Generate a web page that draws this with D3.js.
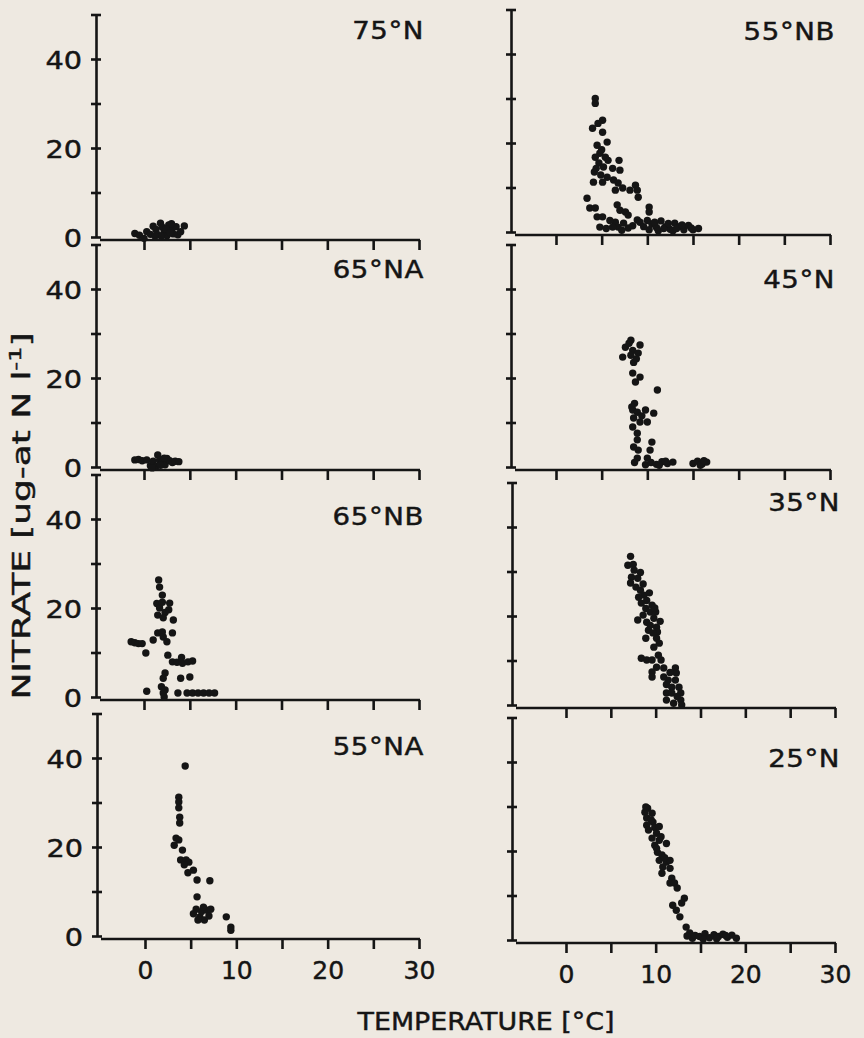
<!DOCTYPE html>
<html>
<head>
<meta charset="utf-8">
<script src="https://cdnjs.cloudflare.com/ajax/libs/d3/7.8.5/d3.min.js"></script>
<style>
    body { margin: 0; background: #eee9e1; }
    svg text { font-family: "DejaVu Sans", sans-serif; fill: #151515; stroke: #151515; stroke-width: 0.45px; }
    .axis path, .axis line { stroke: #151515; stroke-width: 2.6; }
    .axis text { font-size: 25px; }
</style>
</head>
<body>
<div id="chart"></div>
<script>

//Panel names - left column top to bottom, then right column
var panelNames = ["75°N", "65°NA", "65°NB", "55°NA", "55°NB", "45°N", "35°N", "25°N"];

//Temperature / nitrate pairs
var n75 = [[-1.0,0.8],[-0.5,0.4],[0.0,-0.3],[0.3,1.2],[0.7,0.6],[1.0,2.4],[1.3,1.7],[1.5,0.5],[1.8,3.1],[2.0,2.2],[2.2,1.0],[2.5,0.3],[2.7,2.7],[3.0,1.5],[3.2,0.7],[3.5,2.3],[3.7,0.5],[4.0,1.2],[4.4,2.5],[2.4,1.8],[1.9,0.2],[3.0,3.0],[1.2,0.2],[2.8,0.9]];
var n65a = [[-1.0,1.6],[-0.6,1.7],[-0.2,1.4],[0.3,1.6],[0.7,0.3],[1.0,1.3],[1.3,0.1],[1.5,2.7],[1.7,1.5],[2.0,1.1],[2.3,0.5],[2.5,1.9],[2.8,1.4],[3.1,1.0],[3.4,1.3],[3.8,1.2],[0.9,-0.2],[2.2,2.0],[1.8,0.4]];
var n65b = [[1.6,26.3],[1.7,24.7],[2.0,22.9],[1.4,21.0],[1.7,20.0],[2.0,21.3],[2.3,19.0],[1.5,18.4],[2.1,17.8],[2.8,21.1],[2.7,19.6],[3.2,17.3],[1.0,12.8],[1.5,14.4],[2.0,14.6],[2.1,13.5],[3.1,14.4],[2.5,12.4],[-1.4,12.4],[-1.0,12.2],[-0.6,12.0],[-0.2,12.0],[0.2,9.9],[2.6,9.4],[3.1,7.9],[3.6,7.8],[4.2,7.6],[4.8,7.9],[5.3,8.1],[4.1,8.9],[2.3,5.4],[5.0,4.5],[4.0,4.2],[2.1,4.2],[1.9,2.3],[2.3,1.6],[2.1,0.9],[0.3,1.3],[3.7,0.9],[4.7,0.9],[5.3,0.9],[5.9,0.9],[6.5,0.9],[7.1,0.9],[7.7,0.9],[2.2,0.0]];
var n55a = [[4.4,38.2],[3.7,31.2],[3.7,30.1],[3.7,28.8],[3.8,26.7],[3.8,25.4],[3.4,22.0],[3.7,21.6],[3.2,20.4],[4.1,19.3],[3.9,17.1],[4.5,17.1],[4.8,16.6],[4.3,16.0],[4.7,14.2],[5.3,14.8],[5.7,12.6],[7.1,12.4],[5.7,8.8],[5.3,5.0],[5.6,6.0],[6.0,4.3],[6.2,5.5],[6.5,3.6],[6.8,5.8],[7.0,4.5],[7.2,6.0],[5.8,3.6],[6.4,6.5],[8.9,4.3],[9.4,2.0],[9.4,1.3]];
var n55b = [[4.3,30.0],[4.3,28.9],[5.1,25.1],[4.6,24.4],[4.0,23.3],[5.1,22.4],[5.6,20.2],[4.8,17.7],[4.3,16.8],[5.4,16.8],[5.7,16.1],[6.9,16.1],[4.7,15.5],[5.2,14.6],[6.2,14.3],[7.0,13.9],[4.9,12.8],[5.6,12.3],[4.1,11.2],[5.1,11.2],[6.3,11.7],[6.8,11.0],[7.3,9.9],[6.5,9.4],[8.7,10.5],[8.9,9.4],[9.0,7.8],[8.1,9.4],[3.4,7.6],[3.7,5.4],[4.3,5.4],[4.5,3.4],[5.1,3.4],[4.8,1.1],[6.7,6.1],[7.0,4.9],[7.6,4.5],[7.9,3.8],[6.5,2.2],[6.8,1.1],[7.4,2.0],[6.2,1.1],[7.9,0.9],[8.9,2.7],[9.2,2.2],[10.2,5.6],[10.2,4.5],[10.5,1.8],[11.0,1.0],[11.5,2.5],[12.0,1.2],[12.5,0.6],[13.0,2.0],[13.5,1.2],[14.0,0.5],[14.5,1.5],[15.0,0.5],[15.6,0.8],[11.2,0.3],[12.8,0.3],[10.2,0.5],
            [10.8,2.2],[11.8,0.8],[12.3,1.9],[13.2,0.8],[13.8,1.6],[14.8,0.9],[9.6,1.2],[10.0,2.6],[7.2,0.4],[5.5,0.8],[5.9,2.6],[8.4,1.4],[4.2,13.5],[4.5,19.5],[5.0,18.5],[4.4,14.3]];
var n45 = [[8.2,28.5],[9.2,27.4],[7.6,26.9],[8.4,26.2],[7.3,24.7],[8.2,25.1],[9.0,25.6],[8.5,23.5],[8.4,21.1],[9.2,20.2],[8.7,19.1],[11.1,17.3],[8.6,14.3],[8.4,12.8],[8.9,12.3],[9.8,12.8],[10.7,12.1],[8.5,11.0],[9.2,10.1],[10.0,10.1],[8.4,9.0],[8.9,7.6],[8.9,6.1],[8.5,4.5],[9.0,3.8],[10.5,5.6],[10.3,3.8],[8.9,2.0],[10.0,2.0],[9.8,0.5],[10.4,1.0],[11.0,0.6],[11.6,1.2],[12.2,0.8],[12.8,1.1],[15.0,0.8],[15.5,1.3],[16.0,0.7],[16.5,1.1],
           [8.0,27.8],[8.8,24.3],[8.3,13.5],[9.4,11.5],[11.3,0.4],[12.0,1.3],[15.8,0.4],[16.2,1.4],[8.6,1.0]];
var n35 = [[7.2,33.4],[6.9,31.4],[7.6,30.3],[8.3,29.8],[7.3,28.7],[8.0,28.5],[7.2,27.4],[7.8,26.5],[8.3,25.8],[8.7,24.7],[8.1,24.2],[9.0,23.5],[8.4,22.9],[9.6,22.4],[8.9,21.7],[9.4,20.9],[10.0,20.9],[9.8,19.5],[8.0,19.1],[9.0,18.6],[9.4,17.9],[10.1,17.5],[9.2,16.8],[10.2,16.4],[8.9,15.0],[10.1,15.0],[9.8,13.0],[8.4,10.5],[9.0,10.1],[9.6,10.1],[10.3,11.2],[10.6,10.1],[10.1,8.5],[9.6,7.4],[9.6,6.3],[10.9,8.3],[10.9,6.3],[11.4,5.6],[12.2,8.3],[12.3,7.2],[12.2,5.6],[11.8,4.0],[12.6,4.0],[11.2,2.7],[11.8,2.7],[12.8,2.7],[12.8,1.1],[11.2,1.1],[12.9,0.0],
           [7.5,31.6],[8.6,27.2],[9.3,25.2],[9.9,21.8],[8.6,20.2],[10.5,18.8],[9.7,16.2],[11.2,4.6],[12.4,1.9],[12.0,0.4],[11.6,7.3],[10.4,13.9]];
var n25 = [[9.1,29.6],[8.8,28.7],[9.6,28.5],[9.0,27.4],[9.7,26.5],[9.0,25.8],[9.9,25.3],[9.2,24.7],[10.1,24.0],[9.6,22.9],[10.4,22.4],[11.2,21.7],[9.9,21.3],[10.2,19.7],[10.7,19.1],[10.4,17.9],[11.2,17.5],[11.6,17.9],[10.8,16.4],[11.6,16.1],[10.7,15.0],[11.8,13.9],[11.6,12.8],[12.1,12.8],[13.2,9.4],[12.9,8.3],[11.9,7.8],[12.3,6.7],[12.7,5.2],[13.4,2.9],[13.8,1.6],[14.1,0.4],[14.9,0.8],[15.5,1.4],[16.0,0.5],[16.5,1.2],[17.0,0.8],[17.5,1.3],[18.0,0.6],[18.5,1.1],[19.0,0.4],[15.3,0.2],
           [8.9,29.9],[9.5,27.0],[10.4,25.5],[10.6,23.2],[10.1,20.6],[11.0,18.5],[12.4,11.7],[13.5,0.9],[14.4,1.0],[16.8,0.3],[17.8,1.0]];

var panelData = [n75, n65a, n65b, n55a, n55b, n45, n35, n25];

//Tick values and labels
var yTicks = [0, 10, 20, 30, 40, 50];
var yTickLabels = ["0", "", "20", "", "40", ""];
var xTicks = [0, 5, 10, 15, 20, 25, 30];
var xTickLabels = ["0", "", "10", "", "20", "", "30"];


//SVG Size
var width = 864,
    height = 1038;

//Panel placement (scanned figure is slightly skewed, so every panel gets its own zero)
var layout = [
    {col: 0, row: 0, axisX: 96,  x0: 144, x30: 419, y0: 237, labY: 39},
    {col: 0, row: 1, axisX: 96,  x0: 144, x30: 419, y0: 467, labY: 278},
    {col: 0, row: 2, axisX: 96,  x0: 144, x30: 419, y0: 697, labY: 525},
    {col: 0, row: 3, axisX: 97,  x0: 145, x30: 419, y0: 936, labY: 755},
    {col: 1, row: 0, axisX: 511, x0: 556, x30: 830, y0: 232, labY: 40},
    {col: 1, row: 1, axisX: 511, x0: 556, x30: 830, y0: 467, labY: 288},
    {col: 1, row: 2, axisX: 512, x0: 566, x30: 835, y0: 705, labY: 511},
    {col: 1, row: 3, axisX: 512, x0: 566, x30: 835, y0: 940, labY: 767}
];
var yPx = 4.45;   // pixels per nitrate unit
var stretch = 1.15;  // the original lettering is a wide face


var svg = d3.select("#chart")
    .append("svg")
    .attr("width", width)
    .attr("height", height);


//Drawing the eight panels
layout.forEach(function(L, p) {

    var xScale = d3.scaleLinear()
        .domain([0, 30])
        .range([L.x0, L.x30]);

    var yScale = d3.scaleLinear()
        .domain([0, 50])
        .range([L.y0, L.y0 - 50 * yPx]);

    var g = svg.append("g").attr("class", "panel");

    // y axis, ticks cross the line
    var yAxis = d3.axisLeft(yScale)
        .tickValues(yTicks)
        .tickSize(5)
        .tickSizeOuter(0)
        .tickPadding(9)
        .tickFormat(function(d, i) { return L.col == 0 ? yTickLabels[i] : ""; });

    var ya = g.append("g")
        .attr("class", "axis")
        .attr("transform", "translate(" + L.axisX + ",0)")
        .call(yAxis);
    ya.selectAll(".tick line").attr("x1", 5);
    ya.selectAll(".tick text")
        .attr("dy", "0.36em")
        .attr("transform", "translate(-14,0) scale(" + stretch + ",1)")
        .attr("x", 0);

    // x axis, ticks hang below
    var xAxis = d3.axisBottom(xScale)
        .tickValues(xTicks)
        .tickSize(10)
        .tickSizeOuter(0)
        .tickPadding(12)
        .tickFormat(function(d, i) { return L.row == 3 ? xTickLabels[i] : ""; });

    var xa = g.append("g")
        .attr("class", "axis")
        .attr("transform", "translate(0," + (L.y0 + 3) + ")")
        .call(xAxis);
    xa.select(".domain").remove();
    xa.append("line")
        .attr("x1", L.axisX + 4)
        .attr("x2", xScale(30) + 1)
        .attr("y1", 0)
        .attr("y2", 0);

    // the dots
    g.selectAll("circle")
        .data(panelData[p])
        .enter()
        .append("circle")
        .attr("cx", function(d) { return xScale(d[0]); })
        .attr("cy", function(d) { return yScale(d[1]); })
        .attr("r", 3.7)
        .attr("fill", "#151515");

    // panel name
    g.append("text")
        .text(panelNames[p])
        .attr("transform", "translate(" + (xScale(30) + 5) + "," + L.labY + ") scale(" + stretch + ",1)")
        .attr("text-anchor", "end")
        .style("font-size", "24px")
        .style("letter-spacing", "0.5px");
});


// Creating the axis titles
var ylab = svg.append("text")
    .attr("transform", "translate(30,516) rotate(-90)")
    .attr("text-anchor", "middle")
    .attr("textLength", 367)
    .attr("lengthAdjust", "spacingAndGlyphs")
    .style("font-size", "24px");
ylab.append("tspan").text("NITRATE [ug-at N l");
ylab.append("tspan").text("-1").attr("dy", -9).style("font-size", "16px");
ylab.append("tspan").text("]").attr("dy", 9);

svg.append("text")
    .text("TEMPERATURE [°C]")
    .attr("x", 486)
    .attr("y", 1030)
    .attr("text-anchor", "middle")
    .attr("textLength", 257)
    .attr("lengthAdjust", "spacingAndGlyphs")
    .style("font-size", "24px");

</script>
</body>
</html>
